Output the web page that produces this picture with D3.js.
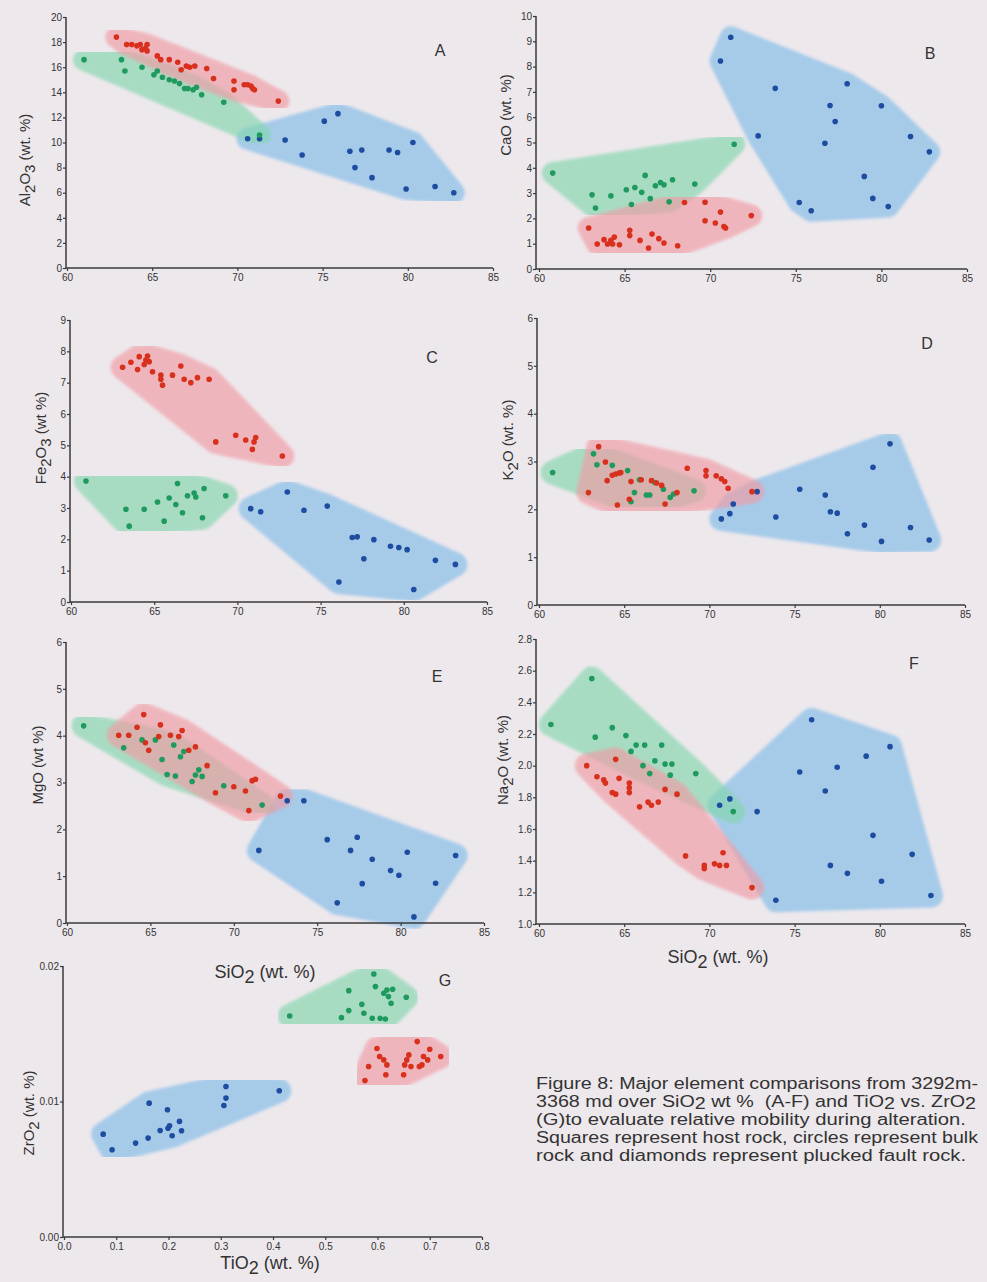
<!DOCTYPE html>
<html>
<head>
<meta charset="utf-8">
<script src="https://cdn.jsdelivr.net/npm/d3@7"></script>
<style>
body { margin: 0; background: #ede8ec; }
text { font-family: "Liberation Sans", Arial, sans-serif; fill: #333; }
</style>
</head>
<body>
<div id="fig"></div>
<script>
// ---- data: [SiO2, oxide] pairs (G: [TiO2, ZrO2]) ----
var aRed = [[62.9,18.4],[63.5,17.8],[63.8,17.8],[64.1,17.7],[64.3,17.8],[64.4,17.4],[64.6,17.5],[64.7,17.8],[64.7,17.3],[65.3,16.9],[65.5,16.6],[66.0,16.6],[66.5,16.4],[66.7,15.8],[67.0,16.1],[67.2,16.0],[67.5,16.1],[68.2,15.9],[68.6,15.1],[69.8,14.9],[69.8,14.2],[70.4,14.6],[70.6,14.6],[70.8,14.5],[70.9,14.3],[71.0,14.2],[72.4,13.3]];
var aGreen = [[61.0,16.6],[63.2,16.6],[63.4,15.7],[64.4,16.0],[65.1,15.4],[65.3,15.7],[65.6,15.2],[66.0,15.0],[66.3,14.9],[66.6,14.7],[66.9,14.3],[67.1,14.3],[67.4,14.2],[67.6,14.4],[67.9,13.8],[69.2,13.2],[71.3,10.6]];
var aBlue = [[70.6,10.3],[71.3,10.3],[72.8,10.2],[73.8,9.0],[75.1,11.7],[75.9,12.3],[76.6,9.3],[77.3,9.4],[76.9,8.0],[77.9,7.2],[78.9,9.4],[79.4,9.2],[79.9,6.3],[80.3,10.0],[81.6,6.5],[82.7,6.0]];

var bRed = [[62.9,1.62],[63.4,0.99],[63.8,1.16],[64.0,0.99],[64.2,1.13],[64.4,1.26],[64.3,0.99],[64.7,0.96],[65.3,1.32],[65.3,1.53],[65.9,1.13],[66.4,0.83],[66.6,1.38],[67.0,1.20],[67.3,1.03],[68.1,0.92],[68.5,2.63],[69.7,2.64],[69.7,1.91],[70.3,1.82],[70.6,2.25],[70.8,1.68],[70.9,1.62],[72.4,2.11]];
var bGreen = [[60.8,3.79],[71.4,4.93],[63.1,2.93],[63.3,2.41],[64.2,2.89],[65.1,3.13],[65.6,3.22],[65.4,2.55],[66.0,3.03],[66.2,3.70],[66.5,2.78],[66.8,3.29],[67.1,3.42],[67.3,3.33],[67.8,3.53],[67.6,2.66],[69.1,3.36]];
var bBlue = [[71.2,9.16],[70.6,8.22],[73.8,7.14],[72.8,5.26],[78.0,7.32],[77.0,6.46],[77.3,5.83],[76.7,4.97],[80.0,6.45],[81.7,5.24],[82.8,4.63],[79.0,3.66],[79.5,2.79],[80.4,2.47],[75.2,2.63],[75.9,2.30]];

var cRed = [[63.1,7.49],[63.6,7.65],[64.0,7.42],[64.1,7.83],[64.4,7.58],[64.5,7.72],[64.6,7.85],[64.7,7.67],[64.9,7.35],[65.4,7.24],[65.4,7.11],[65.5,6.92],[66.1,7.24],[66.6,7.53],[66.8,7.11],[67.2,7.00],[67.6,7.16],[68.3,7.11],[68.7,5.11],[69.9,5.32],[70.5,5.17],[70.9,4.87],[71.1,5.25],[71.0,5.11],[72.7,4.66]];
var cGreen = [[60.9,3.86],[63.3,2.96],[63.5,2.42],[64.4,2.96],[65.2,3.19],[65.6,2.58],[65.9,3.32],[66.3,3.11],[66.4,3.78],[66.7,2.85],[67.0,3.39],[67.4,3.48],[67.5,3.35],[67.9,2.69],[68.0,3.62],[69.3,3.39]];
var cBlue = [[70.8,2.98],[71.4,2.88],[73.0,3.51],[74.0,2.93],[75.4,3.06],[76.1,0.64],[76.9,2.06],[77.2,2.08],[77.6,1.38],[78.2,1.99],[79.2,1.78],[79.7,1.74],[80.2,1.67],[80.6,0.40],[81.9,1.33],[83.1,1.20]];

var dRed = [[62.9,2.35],[63.5,3.31],[63.9,2.99],[64.0,2.60],[64.3,2.71],[64.5,2.74],[64.7,2.76],[64.8,2.77],[64.6,2.09],[65.4,2.58],[65.3,2.21],[66.0,2.62],[66.6,2.60],[66.9,2.55],[67.2,2.50],[67.4,2.11],[68.1,2.35],[68.7,2.86],[69.8,2.81],[69.8,2.70],[70.4,2.70],[70.7,2.64],[70.9,2.58],[71.1,2.44],[72.5,2.37]];
var dGreen = [[60.8,2.77],[63.2,3.16],[63.4,2.93],[64.3,2.92],[65.2,2.81],[65.4,2.16],[65.6,2.35],[66.3,2.30],[66.5,2.30],[65.9,2.62],[66.8,2.56],[67.3,2.42],[67.7,2.25],[67.9,2.32],[69.1,2.39]];
var dBlue = [[70.7,1.80],[71.2,1.91],[71.4,2.11],[72.8,2.37],[73.9,1.84],[75.3,2.42],[76.8,2.30],[77.1,1.95],[77.5,1.92],[78.1,1.49],[79.1,1.67],[79.6,2.88],[80.1,1.33],[80.6,3.37],[81.8,1.62],[82.9,1.36]];

var eRed = [[63.1,4.01],[63.7,4.01],[64.2,4.18],[64.6,4.45],[64.7,3.85],[64.9,3.69],[65.5,3.98],[65.6,4.23],[66.2,4.01],[66.7,3.98],[66.9,4.11],[67.3,3.69],[67.7,3.76],[68.4,3.36],[68.9,2.78],[70.0,2.91],[70.7,2.82],[70.9,2.40],[71.1,3.04],[71.3,3.07],[72.8,2.71]];
var eGreen = [[61.0,4.21],[63.4,3.74],[64.5,3.91],[65.3,3.91],[65.7,3.49],[66.0,3.17],[66.4,3.80],[66.5,3.14],[66.8,3.55],[67.0,3.66],[67.5,3.02],[67.7,3.16],[67.9,3.27],[68.1,3.13],[69.4,2.93],[71.7,2.52]];
var eBlue = [[73.2,2.61],[74.2,2.61],[71.5,1.55],[75.6,1.78],[77.0,1.55],[77.4,1.83],[77.7,0.84],[78.3,1.36],[76.2,0.43],[79.4,1.12],[79.9,1.02],[80.4,1.51],[80.8,0.13],[82.1,0.85],[83.3,1.44]];

var fRed = [[62.8,2.00],[63.4,1.93],[63.8,1.91],[63.9,1.89],[64.3,1.83],[64.5,1.82],[64.5,2.04],[64.7,1.92],[65.3,1.89],[65.3,1.86],[65.3,1.83],[65.9,1.74],[66.4,1.77],[66.6,1.75],[67.0,1.77],[67.4,1.85],[68.1,1.82],[68.6,1.43],[69.7,1.37],[69.7,1.35],[70.3,1.38],[70.6,1.37],[70.8,1.45],[71.0,1.37],[72.5,1.23]];
var fGreen = [[60.7,2.26],[63.1,2.55],[63.3,2.18],[64.3,2.24],[65.1,2.19],[65.4,2.09],[65.7,2.13],[66.2,2.13],[66.1,2.00],[66.5,1.95],[66.8,2.03],[67.2,2.13],[67.4,2.01],[67.8,2.01],[67.7,1.94],[69.2,1.95],[71.4,1.71]];
var fBlue = [[70.6,1.75],[71.2,1.79],[72.8,1.71],[73.9,1.15],[75.3,1.96],[76.0,2.29],[76.8,1.84],[77.1,1.37],[77.5,1.99],[78.1,1.32],[79.2,2.06],[79.6,1.56],[80.1,1.27],[80.6,2.12],[81.9,1.44],[83.0,1.18]];

var gRed = [[0.576,0.01155],[0.583,0.01258],[0.599,0.01391],[0.604,0.01332],[0.612,0.01307],[0.618,0.01270],[0.616,0.01197],[0.650,0.01197],[0.652,0.01270],[0.656,0.01307],[0.660,0.01344],[0.664,0.01258],[0.676,0.01442],[0.680,0.01258],[0.685,0.01270],[0.688,0.01332],[0.700,0.01386],[0.696,0.01307],[0.721,0.01332]];
var gGreen = [[0.432,0.01631],[0.531,0.01619],[0.545,0.01671],[0.545,0.01818],[0.570,0.01717],[0.574,0.01651],[0.590,0.01614],[0.593,0.01941],[0.596,0.01848],[0.605,0.01614],[0.615,0.01609],[0.612,0.01799],[0.618,0.01823],[0.621,0.01774],[0.626,0.01725],[0.629,0.01828],[0.655,0.01769]];
var gBlue = [[0.075,0.00759],[0.092,0.00644],[0.137,0.00693],[0.161,0.00730],[0.163,0.00988],[0.184,0.00786],[0.198,0.00939],[0.199,0.00803],[0.202,0.00821],[0.207,0.00747],[0.221,0.00853],[0.225,0.00784],[0.306,0.00971],[0.310,0.01025],[0.310,0.01111],[0.412,0.01079]];

var siTicks = [60, 65, 70, 75, 80, 85];
var tiTicks = [0, 0.1, 0.2, 0.3, 0.4, 0.5, 0.6, 0.7, 0.8];
var alTicks = d3.range(0, 21, 2);
var caTicks = d3.range(0, 11, 1);
var feTicks = d3.range(0, 10, 1);
var kTicks = d3.range(0, 7, 1);
var mgTicks = d3.range(0, 7, 1);
var naTicks = [1.0, 1.2, 1.4, 1.6, 1.8, 2.0, 2.2, 2.4, 2.6, 2.8];
var zrTicks = [0, 0.01, 0.02];

var captionLines = [
  "Figure 8: Major element comparisons from 3292m-",
  "3368 md over SiO_2 wt %  (A-F) and TiO_2 vs. ZrO_2",
  "(G)to evaluate relative mobility during alteration.",
  "Squares represent host rock, circles represent bulk",
  "rock and diamonds represent plucked fault rock."
];
var captionWidths = [442, 440, 430, 442, 430];

// ---- layout ----
var W = 987, H = 1282;
var hullCol = { red: "#f19ba4", green: "#83d6ae", blue: "#80bce8" };
var dotCol = { red: "#d8301c", green: "#1f9a5e", blue: "#1d4ca0" };

var panels = [
  { id: "A", red: aRed, green: aGreen, blue: aBlue, xd: [60, 85], yd: [0, 20], xr: [67, 493], yr: [268, 17], ax: 66,
    xt: siTicks, yt: alTicks, xf: d3.format("d"), yf: d3.format("d"), letter: [440, 50], ylab: "Al_2O_3 (wt. %)", yl: [24, 160], pad: 11 },
  { id: "B", red: bRed, green: bGreen, blue: bBlue, xd: [60, 85], yd: [0, 10], xr: [539, 967], yr: [269, 16], ax: 536,
    xt: siTicks, yt: caTicks, xf: d3.format("d"), yf: d3.format("d"), letter: [930, 53], ylab: "CaO (wt. %)", yl: [505, 115], pad: 11 },
  { id: "C", red: cRed, green: cGreen, blue: cBlue, xd: [60, 85], yd: [0, 9], xr: [71, 487], yr: [602, 320], ax: 70,
    xt: siTicks, yt: feTicks, xf: d3.format("d"), yf: d3.format("d"), letter: [432, 357], ylab: "Fe_2O_3 (wt %)", yl: [40, 438], pad: 12 },
  { id: "D", red: dRed, green: dGreen, blue: dBlue, xd: [60, 85], yd: [0, 6], xr: [539, 965], yr: [605, 318], ax: 537,
    xt: siTicks, yt: kTicks, xf: d3.format("d"), yf: d3.format("d"), letter: [927, 343], ylab: "K_2O (wt. %)", yl: [507, 440], pad: 12 },
  { id: "E", red: eRed, green: eGreen, blue: eBlue, xd: [60, 85], yd: [0, 6], xr: [67, 484], yr: [923, 642], ax: 66,
    xt: siTicks, yt: mgTicks, xf: d3.format("d"), yf: d3.format("d"), letter: [437, 676], ylab: "MgO (wt %)", yl: [37, 765], pad: 12 },
  { id: "F", red: fRed, green: fGreen, blue: fBlue, xd: [60, 85], yd: [1.0, 2.8], xr: [539, 965], yr: [924, 639], ax: 536,
    xt: siTicks, yt: naTicks, xf: d3.format("d"), yf: d3.format(".1f"), letter: [914, 663], ylab: "Na_2O (wt. %)", yl: [502, 760], pad: 12 },
  { id: "G", red: gRed, green: gGreen, blue: gBlue, xd: [0, 0.8], yd: [0, 0.02], xr: [64, 482], yr: [1237, 966], ax: 63,
    xt: tiTicks, yt: zrTicks, xf: d3.format(".1f"), yf: d3.format(".2f"), letter: [445, 980], ylab: "ZrO_2 (wt. %)", yl: [28, 1113], pad: 12 }
];

var svg = d3.select("#fig").append("svg")
    .attr("width", W)
    .attr("height", H);

svg.append("rect").attr("width", W).attr("height", H).attr("fill", "#ede8ec");

// soft edge for the shaded fields
svg.append("defs").append("filter").attr("id", "soft")
  .append("feGaussianBlur").attr("stdDeviation", 1.6);

// text with "_2" style subscripts
function rich(sel, str, shift) {
  shift = shift || 0.3;
  var parts = str.split(/(_\d)/);
  var sub = false;
  parts.forEach(function(p) {
    if (!p) return;
    if (p[0] === "_") {
      sel.append("tspan").attr("dy", shift + "em").text(p[1]);
      sub = true;
    } else {
      sel.append("tspan").attr("dy", sub ? (-shift) + "em" : null).text(p);
      sub = false;
    }
  });
}

panels.forEach(function(p) {
  var x = d3.scaleLinear().domain(p.xd).range(p.xr);
  var y = d3.scaleLinear().domain(p.yd).range(p.yr);
  var g = svg.append("g").attr("class", "panel-" + p.id);

  // shaded fields round each group
  ["blue", "green", "red"].forEach(function(k) {
    var pts = p[k].map(function(d) { return [x(d[0]), y(d[1])]; });
    var hull = d3.polygonHull(pts);
    g.append("g").attr("opacity", 0.65).attr("filter", "url(#soft)")
      .append("path")
      .attr("d", "M" + hull.join("L") + "Z")
      .attr("fill", hullCol[k])
      .attr("stroke", hullCol[k])
      .attr("stroke-width", p.pad * 2)
      .attr("stroke-linejoin", "round");
  });

  ["blue", "green", "red"].forEach(function(k) {
    g.selectAll(".dot-" + k)
      .data(p[k])
      .enter().append("circle")
      .attr("class", "dot-" + k)
      .attr("cx", function(d) { return x(d[0]); })
      .attr("cy", function(d) { return y(d[1]); })
      .attr("r", 2.8)
      .attr("fill", dotCol[k]);
  });

  // axes
  var xAxis = d3.axisBottom(x).tickValues(p.xt).tickFormat(p.xf).tickSize(3).tickSizeOuter(0).tickPadding(3);
  var yAxis = d3.axisLeft(y).tickValues(p.yt).tickFormat(p.yf).tickSize(3).tickSizeOuter(0).tickPadding(1);

  var gx = g.append("g").attr("transform", "translate(0," + p.yr[0] + ")").call(xAxis);
  gx.select(".domain").attr("d", "M" + p.ax + ",0H" + p.xr[1]);
  var gy = g.append("g").attr("transform", "translate(" + p.ax + ",0)").call(yAxis);
  [gx, gy].forEach(function(a) {
    a.select(".domain").attr("stroke", "#3a3a3a").attr("stroke-width", 1.5);
    a.selectAll(".tick line").attr("stroke", "#3a3a3a").attr("stroke-width", 1.2);
    a.selectAll(".tick text").attr("font-size", 10).attr("fill", "#555")
      .attr("font-family", "'Liberation Sans', Arial, sans-serif");
  });
  gy.select(".domain").attr("d", "M0," + p.yr[0] + "V" + p.yr[1]);

  g.append("text")
    .attr("x", p.letter[0]).attr("y", p.letter[1])
    .attr("text-anchor", "middle").attr("dominant-baseline", "central")
    .attr("font-size", 16)
    .text(p.id);

  var yl = g.append("text")
    .attr("transform", "translate(" + p.yl[0] + "," + p.yl[1] + ") rotate(-90)")
    .attr("text-anchor", "middle").attr("dominant-baseline", "central")
    .attr("font-size", 15);
  rich(yl, p.ylab);
});

// shared x titles
[[265, 972, "SiO_2 (wt. %)"], [718, 957, "SiO_2 (wt. %)"], [270, 1263, "TiO_2 (wt. %)"]].forEach(function(t) {
  var tx = svg.append("text")
    .attr("x", t[0]).attr("y", t[1])
    .attr("text-anchor", "middle").attr("dominant-baseline", "central")
    .attr("font-size", 18);
  rich(tx, t[2]);
});

// caption
var cap = svg.append("g").attr("transform", "translate(536,1089)");
captionLines.forEach(function(line, i) {
  var t = cap.append("text")
    .attr("x", 0).attr("y", i * 18)
    .attr("font-size", 16)
    .attr("fill", "#2a2a2a")
    .attr("textLength", captionWidths[i])
    .attr("lengthAdjust", "spacingAndGlyphs")
    .attr("xml:space", "preserve");
  rich(t, line, 0.12);
});
</script>
</body>
</html>
